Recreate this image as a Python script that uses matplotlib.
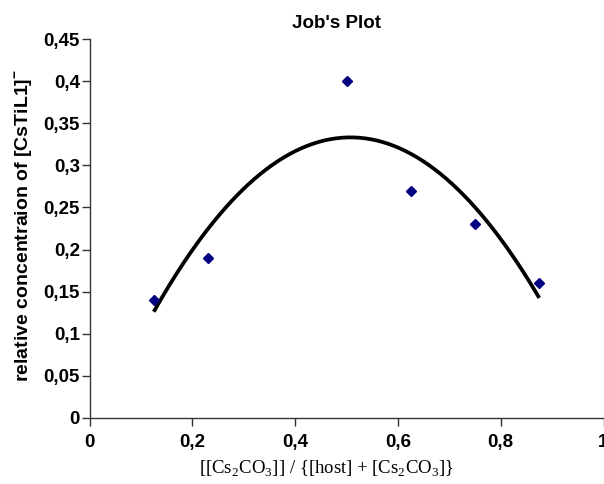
import numpy as np
import matplotlib.pyplot as plt
from matplotlib.ticker import FuncFormatter, MultipleLocator

# data
x_vals = [0.125, 0.23, 0.5, 0.625, 0.75, 0.875]
y_vals = [0.14, 0.19, 0.40, 0.27, 0.23, 0.16]

plt.rcParams['mathtext.fontset'] = 'custom'
plt.rcParams['mathtext.rm'] = 'Liberation Serif'
plt.rcParams['mathtext.bf'] = 'Liberation Sans:bold'

fig = plt.figure(figsize=(6.04, 4.84), dpi=100)
ax = fig.add_axes([89.5 / 604, 1 - 417.7 / 484, (603.5 - 89.5) / 604, (417.7 - 39.3) / 484])

# polynomial (order 2) trend line, like Excel
coef = np.polyfit(x_vals, y_vals, 2)
xs = np.linspace(min(x_vals), max(x_vals), 200)
ax.plot(xs, np.polyval(coef, xs), color='black', lw=2.7, solid_capstyle='butt')
ax.plot(x_vals, y_vals, 'D', color='#000080', markersize=5.5, zorder=3)

ax.set_xlim(0, 1)
ax.set_ylim(0, 0.45)
ax.xaxis.set_major_locator(MultipleLocator(0.2))
ax.yaxis.set_major_locator(MultipleLocator(0.05))

def comma(v, pos):
    s = ('%.2f' % v).rstrip('0').rstrip('.')
    return s.replace('.', ',')

ax.xaxis.set_major_formatter(FuncFormatter(comma))
ax.yaxis.set_major_formatter(FuncFormatter(comma))

for side in ['top', 'right']:
    ax.spines[side].set_visible(False)
for side in ['left', 'bottom']:
    ax.spines[side].set_color('#333333')
    ax.spines[side].set_linewidth(1.0)
ax.tick_params(direction='out', length=5.5, width=1, color='#333333')
ax.tick_params(axis='y', pad=1.5)
ax.tick_params(axis='x', pad=6.5)
for lab in ax.get_xticklabels() + ax.get_yticklabels():
    lab.set_fontfamily('Liberation Sans')
    lab.set_fontweight('bold')
    lab.set_fontsize(13.5)

fig.text(336.7 / 604, 1 - 24 / 484, "Job's Plot", ha='center', va='center',
         fontfamily='Liberation Sans', fontweight='bold', fontsize=13.5)
fig.text(24 / 604, 1 - 226 / 484, r'relative concentraion of [CsTiL1]$^{\mathbf{-}}$',
         rotation=90, ha='center', va='center',
         fontfamily='Liberation Sans', fontweight='bold', fontsize=14)
fig.text(326 / 604, 1 - 469 / 484,
         r'[[Cs$_2$CO$_3$]] / {[host] + [Cs$_2$CO$_3$]}',
         ha='center', va='center', fontfamily='Liberation Serif', fontsize=13.5)

fig.savefig('out.png', dpi=100)
